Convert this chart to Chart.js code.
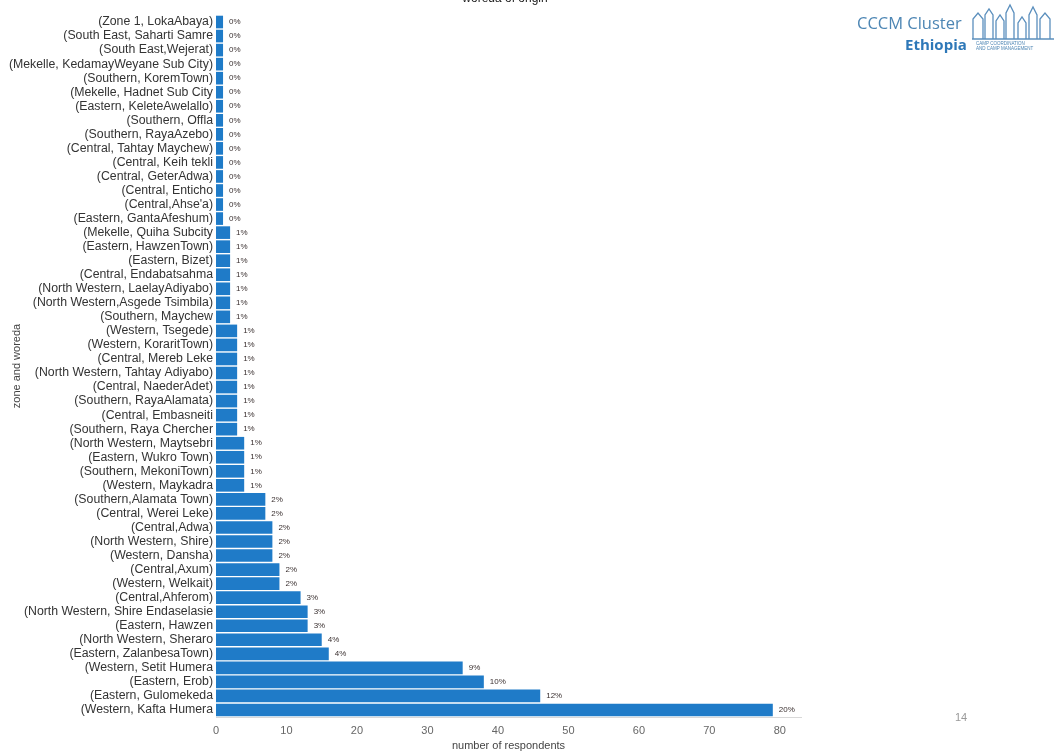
<!DOCTYPE html>
<html>
<head>
<meta charset="utf-8">
<script src="https://cdn.jsdelivr.net/npm/chart.js@4/dist/chart.umd.min.js"></script>
<style>
  html, body { margin: 0; padding: 0; background: #fff; }
  body { width: 1057px; height: 754px; position: relative; overflow: hidden; font-family: "Liberation Sans", Arial, sans-serif; }
  #c { position: absolute; left: 0; top: 0; }
  #title { position: absolute; top: -9px; left: 455px; width: 100px; text-align: center; font-size: 12px; color: #222; white-space: nowrap; }
  #logo1 { position: absolute; left: 857px; top: 11px; font-family: "Open Sans", sans-serif; font-size: 16.5px; color: #4d86b4; white-space: nowrap; }
  #logo2 { position: absolute; left: 905px; top: 34px; font-family: "Open Sans", sans-serif; font-size: 15px; font-weight: bold; color: #2e78b8; white-space: nowrap; }
  #logo3 { position: absolute; left: 976px; top: 41px; font-size: 4.5px; line-height: 5px; color: #4d86b4; white-space: nowrap; }
  #icon { position: absolute; left: 970px; top: 3px; }
  #page { position: absolute; left: 955px; top: 711px; font-size: 11px; color: #999; }
</style>
</head>
<body>
<canvas id="c" width="1057" height="754"></canvas>
<div id="title">woreda of origin</div>
<div id="logo1">CCCM Cluster</div>
<div id="logo2">Ethiopia</div>
<div id="logo3">CAMP COORDINATION<br>AND CAMP MANAGEMENT</div>
<svg id="icon" width="86" height="38" viewBox="0 0 86 38">
  <g fill="none" stroke="#5b8fbd" stroke-width="1.3">
    <path d="M3 36 V16 L8 10 L13 16 V36"/>
    <path d="M15 36 V12 L19 6 L23 12 V36"/>
    <path d="M26 36 V18 L30 12 L34 18 V36"/>
    <path d="M36 36 V10 L40 2 L44 10 V36"/>
    <path d="M48 36 V20 L52 14 L56 20 V36"/>
    <path d="M59 36 V12 L63 4 L67 12 V36"/>
    <path d="M70 36 V16 L75 10 L80 16 V36"/>
    <path d="M2 36 H84"/>
  </g>
</svg>
<div id="page">14</div>
<script>
const categories = [
  "(Zone 1, LokaAbaya)",
  "(South East, Saharti Samre",
  "(South East,Wejerat)",
  "(Mekelle, KedamayWeyane Sub City)",
  "(Southern, KoremTown)",
  "(Mekelle, Hadnet Sub City",
  "(Eastern, KeleteAwelallo)",
  "(Southern, Offla",
  "(Southern, RayaAzebo)",
  "(Central, Tahtay Maychew)",
  "(Central, Keih tekli",
  "(Central, GeterAdwa)",
  "(Central, Enticho",
  "(Central,Ahse'a)",
  "(Eastern, GantaAfeshum)",
  "(Mekelle, Quiha Subcity",
  "(Eastern, HawzenTown)",
  "(Eastern, Bizet)",
  "(Central, Endabatsahma",
  "(North Western, LaelayAdiyabo)",
  "(North Western,Asgede Tsimbila)",
  "(Southern, Maychew",
  "(Western, Tsegede)",
  "(Western, KoraritTown)",
  "(Central, Mereb Leke",
  "(North Western, Tahtay Adiyabo)",
  "(Central, NaederAdet)",
  "(Southern, RayaAlamata)",
  "(Central, Embasneiti",
  "(Southern, Raya Chercher",
  "(North Western, Maytsebri",
  "(Eastern, Wukro Town)",
  "(Southern, MekoniTown)",
  "(Western, Maykadra",
  "(Southern,Alamata Town)",
  "(Central, Werei Leke)",
  "(Central,Adwa)",
  "(North Western, Shire)",
  "(Western, Dansha)",
  "(Central,Axum)",
  "(Western, Welkait)",
  "(Central,Ahferom)",
  "(North Western, Shire Endaselasie",
  "(Eastern, Hawzen",
  "(North Western, Sheraro",
  "(Eastern, ZalanbesaTown)",
  "(Western, Setit Humera",
  "(Eastern, Erob)",
  "(Eastern, Gulomekeda",
  "(Western, Kafta Humera"
];

const respondents = [
  1, 1, 1, 1, 1, 1, 1, 1, 1, 1, 1, 1, 1, 1, 1,
  2, 2, 2, 2, 2, 2, 2,
  3, 3, 3, 3, 3, 3, 3, 3,
  4, 4, 4, 4,
  7, 7,
  8, 8, 8,
  9, 9,
  12, 13, 13, 15, 16,
  35, 38, 46, 79
];

const percentLabels = [
  "0%","0%","0%","0%","0%","0%","0%","0%","0%","0%","0%","0%","0%","0%","0%",
  "1%","1%","1%","1%","1%","1%","1%",
  "1%","1%","1%","1%","1%","1%","1%","1%",
  "1%","1%","1%","1%",
  "2%","2%",
  "2%","2%","2%",
  "2%","2%",
  "3%","3%","3%","4%","4%",
  "9%","10%","12%","20%"
];

const xTicks = [0, 10, 20, 30, 40, 50, 60, 70, 80];

const pctPlugin = {
  id: 'pctLabels',
  afterDatasetsDraw(chart) {
    const ctx = chart.ctx;
    const meta = chart.getDatasetMeta(0);
    ctx.save();
    ctx.font = '8px "Liberation Sans", Arial, sans-serif';
    ctx.fillStyle = '#3a3030';
    ctx.textAlign = 'left';
    ctx.textBaseline = 'middle';
    meta.data.forEach((bar, i) => {
      ctx.fillText(percentLabels[i], bar.x + 6, bar.y);
    });
    ctx.restore();
  }
};

new Chart(document.getElementById('c'), {
  type: 'bar',
  data: {
    labels: categories,
    datasets: [{
      data: respondents,
      backgroundColor: '#1f7bc8',
      borderWidth: 0,
      barPercentage: 0.9,
      categoryPercentage: 1.0
    }]
  },
  options: {
    indexAxis: 'y',
    responsive: false,
    animation: false,
    devicePixelRatio: 1,
    layout: { padding: { top: 15, right: 256, bottom: 0, left: 0 } },
    plugins: { legend: { display: false }, tooltip: { enabled: false }, title: { display: false } },
    scales: {
      x: {
        min: 0,
        max: 83,
        afterBuildTicks(scale) { scale.ticks = xTicks.map(v => ({ value: v })); },
        afterFit(scale) { scale.height = 37; },
        grid: { display: false, drawTicks: false },
        border: { display: true, color: '#d8d8d8', width: 1 },
        ticks: { padding: 7, color: '#666', font: { size: 11, family: '"Liberation Sans", Arial, sans-serif' } },
        title: { display: true, text: 'number of respondents', color: '#444', padding: { top: 0, bottom: 1 }, font: { size: 11, family: '"Liberation Sans", Arial, sans-serif' } }
      },
      y: {
        afterFit(scale) { scale.width = 216; },
        grid: { display: false, drawTicks: false },
        border: { display: false },
        ticks: { autoSkip: false, padding: 3, color: '#333', font: { size: 12.3, family: '"Liberation Sans", Arial, sans-serif' } },
        title: { display: true, text: 'zone and woreda', color: '#444', padding: { top: 10, bottom: 0 }, font: { size: 11, family: '"Liberation Sans", Arial, sans-serif' } }
      }
    }
  },
  plugins: [pctPlugin]
});
</script>
</body>
</html>
